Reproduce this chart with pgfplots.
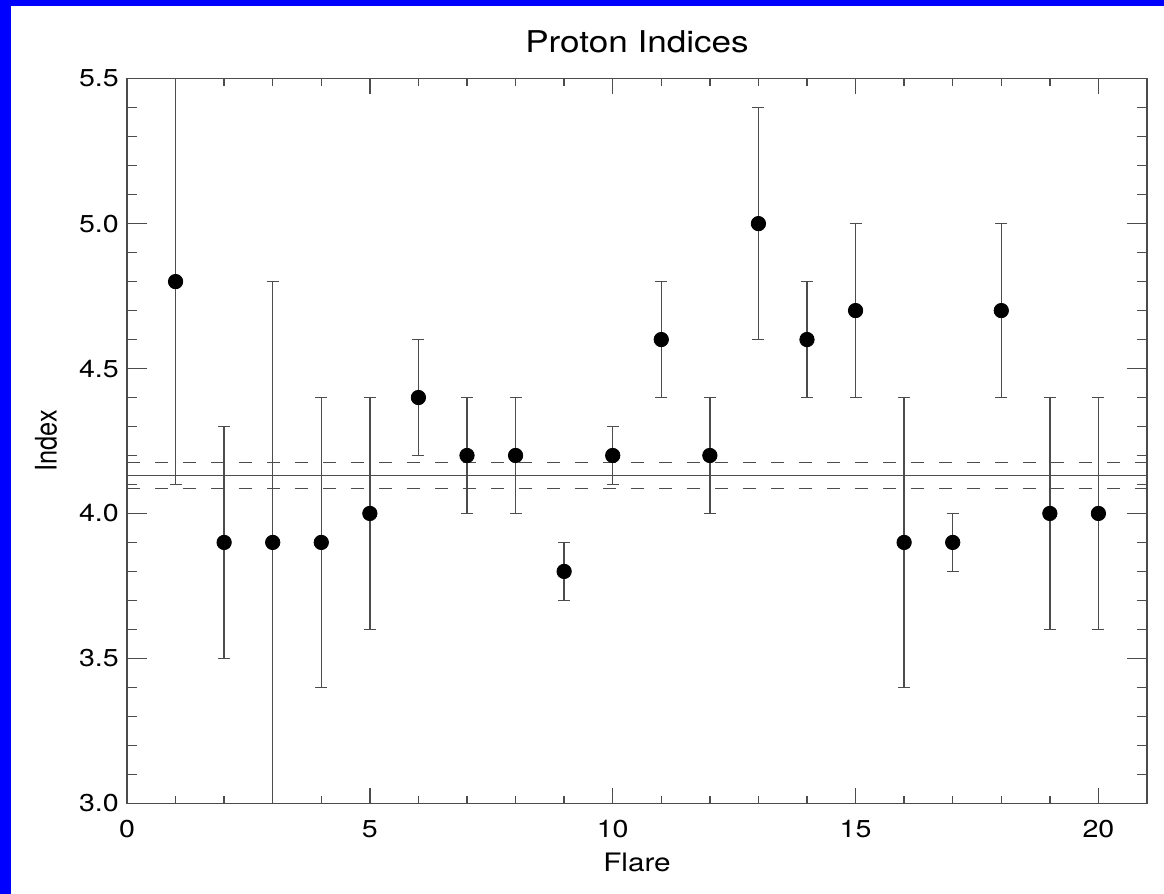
\documentclass[border=0pt]{standalone}
\usepackage{fontspec}
\setmainfont{TeX Gyre Heros}
\usepackage{pgfplots}
\pgfplotsset{compat=1.18}
\usepackage{pgfplotstable}
\pgfplotstableread{
x y ep em
1 4.8 0.7 0.7
2 3.9 0.4 0.4
3 3.9 0.9 0.9
4 3.9 0.5 0.5
5 4.0 0.4 0.4
6 4.4 0.2 0.2
7 4.2 0.2 0.2
8 4.2 0.2 0.2
9 3.8 0.1 0.1
10 4.2 0.1 0.1
11 4.6 0.2 0.2
12 4.2 0.2 0.2
13 5.0 0.4 0.4
14 4.6 0.2 0.2
15 4.7 0.3 0.3
16 3.9 0.5 0.5
17 3.9 0.1 0.1
18 4.7 0.3 0.3
19 4.0 0.4 0.4
20 4.0 0.4 0.4
}\flares
\definecolor{linegray}{gray}{0.3}
\begin{document}
\begin{tikzpicture}
\fill[blue] (-63.5pt,-45.35pt) rectangle (518.5pt,401.65pt);
\fill[white] (-58pt,-45.35pt) rectangle (518.5pt,398.65pt);
\begin{axis}[
  at={(0,0)}, anchor=south west,
  scale only axis, width=510pt, height=362.3pt,
  xmin=0, xmax=21, ymin=3, ymax=5.5,
  xtick={0,5,10,15,20}, ytick={3,3.5,4,4.5,5,5.5},
  minor x tick num=4, minor y tick num=4,
  axis line style={linegray, line width=0.75pt},
  every tick/.style={linegray, line width=0.7pt},
  xtick style={/pgfplots/major tick length=7.5pt, /pgfplots/minor tick length=3.5pt},
  ytick style={/pgfplots/major tick length=10pt, /pgfplots/minor tick length=5pt},
  /pgf/number format/assume math mode=true,
  yticklabel style={/pgf/number format/fixed, /pgf/number format/precision=1, /pgf/number format/fixed zerofill},
  tick label style={font=\fontsize{12.2}{14}\selectfont, xscale=1.17},
  xticklabel style={yshift=-5pt},
  title={Proton Indices},
  title style={at={(axis description cs:0.5,1)}, anchor=base, yshift=6.85pt, font=\fontsize{15}{18}\selectfont, xscale=1.17},
  xlabel={Flare},
  xlabel style={at={(axis description cs:0.5,0)}, anchor=base, yshift=-34.2pt, font=\fontsize{12.7}{15}\selectfont, xscale=1.17},
  ylabel={Index},
  ylabel style={at={(axis description cs:0,0.5)}, anchor=center, rotate=0, yshift=40.5pt, font=\fontsize{12.7}{15}\selectfont, yscale=1.17},
]
\addplot[linegray, line width=0.65pt] coordinates {(0,4.13) (21,4.13)};
\addplot[linegray, line width=0.65pt, dash pattern=on 6.5pt off 7.5pt] coordinates {(0,4.175) (21,4.175)};
\addplot[linegray, line width=0.65pt, dash pattern=on 6.5pt off 7.5pt] coordinates {(0,4.085) (21,4.085)};
\addplot[only marks, mark=*, mark size=3.6pt, mark options={black, fill=black},
  error bars/.cd, y dir=both, y explicit,
  error bar style={linegray, line width=0.65pt},
  error mark options={linegray, line width=0.65pt, rotate=90, mark size=3pt}]
  table[x=x, y=y, y error plus=ep, y error minus=em] {\flares};
\end{axis}
\end{tikzpicture}
\end{document}
